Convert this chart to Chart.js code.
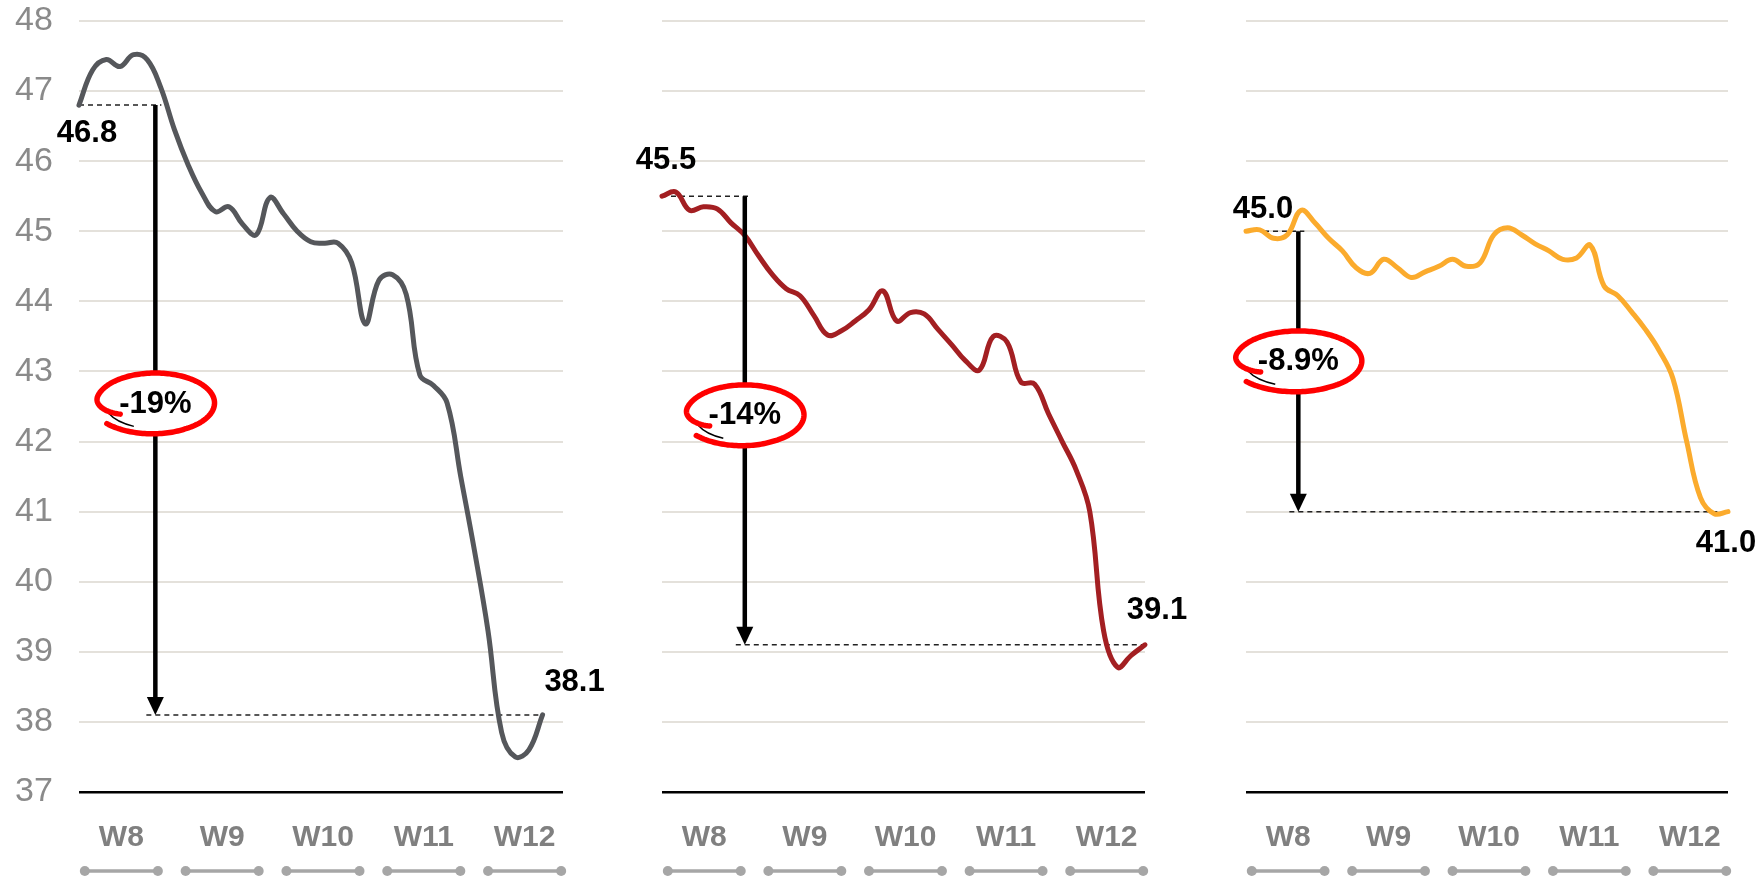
<!DOCTYPE html>
<html>
<head>
<meta charset="utf-8">
<script src="https://cdn.jsdelivr.net/npm/chart.js@4.4.1/dist/chart.umd.min.js"></script>
<style>
  html, body { margin: 0; padding: 0; background: #fff; }
  body { width: 1762px; height: 881px; position: relative; overflow: hidden; }
  .panel { position: absolute; top: 0; height: 881px; }
</style>
</head>
<body>
<div class="panel" style="left:0;width:620px"><canvas id="c1"></canvas></div>
<div class="panel" style="left:620px;width:580px"><canvas id="c2"></canvas></div>
<div class="panel" style="left:1200px;width:562px"><canvas id="c3"></canvas></div>
<script>
// weekly axis labels
const weeks = ['W8', 'W9', 'W10', 'W11', 'W12'];

// daily values, one series per panel
const seriesGrey = [46.8, 47.3, 47.45, 47.35, 47.52, 47.45, 47.05, 46.45, 45.95, 45.55,
  45.28, 45.35, 45.1, 44.95, 45.48, 45.25, 45.0, 44.85, 44.83, 44.83,
  44.55, 43.68, 44.3, 44.38, 44.1, 42.95, 42.8, 42.55, 41.5, 40.45,
  39.3, 37.85, 37.5, 37.6, 38.1];
const seriesRed = [45.5, 45.56, 45.3, 45.35, 45.32, 45.12, 44.94, 44.65, 44.38, 44.18,
  44.08, 43.8, 43.52, 43.58, 43.72, 43.88, 44.15, 43.72, 43.84, 43.82,
  43.6, 43.38, 43.15, 43.02, 43.5, 43.42, 42.85, 42.82, 42.4, 42.0,
  41.6, 41.0, 39.3, 38.78, 38.95, 39.1];
const seriesOrange = [45.0, 45.02, 44.9, 44.95, 45.3, 45.12, 44.9, 44.72, 44.48, 44.4,
  44.6, 44.48, 44.34, 44.42, 44.5, 44.6, 44.5, 44.55, 44.95, 45.05,
  44.95, 44.82, 44.72, 44.6, 44.62, 44.8, 44.22, 44.08, 43.85, 43.6,
  43.3, 42.9, 42.0, 41.2, 40.97, 41.0];

const yTicks = { min: 37, max: 48, step: 1 };

const FONT = '"Liberation Sans", Arial, sans-serif';

// layout and annotation placement per panel
const panels = [
  { id: 'c1', values: seriesGrey, color: '#55575b', xMax: 35.5, left: 15, right: 57, axisWidth: 64, showTicks: true,
    arrowAt: 5.6, bubbleAt: 42.55, firstLabel: [8, 28], lastLabel: [32, -32] },
  { id: 'c2', values: seriesRed, color: '#a31f22', xMax: 35, left: 42, right: 55, axisWidth: 0, showTicks: false,
    arrowAt: 6.0, bubbleAt: 42.38, firstLabel: [4, -36], lastLabel: [12, -34] },
  { id: 'c3', values: seriesOrange, color: '#fbab2d', xMax: 35, left: 46, right: 34, axisWidth: 0, showTicks: false,
    arrowAt: 3.8, bubbleAt: 43.15, firstLabel: [17, -22], lastLabel: [-2, 32] }
];

function line(ctx, x0, y0, x1, y1) {
  ctx.beginPath();
  ctx.moveTo(x0, y0);
  ctx.lineTo(x1, y1);
  ctx.stroke();
}

// week labels with the small dumbbell brackets under them
const weekAxis = {
  id: 'weekAxis',
  afterDraw(chart) {
    const { ctx, chartArea: a } = chart;
    const w = a.right - a.left;
    ctx.save();
    weeks.forEach((wk, i) => {
      const x0 = a.left + w * (0.012 + 0.2083 * i);
      const x1 = x0 + w * 0.151;
      const yb = a.bottom + 79;
      ctx.strokeStyle = '#a6a6a6';
      ctx.fillStyle = '#a6a6a6';
      ctx.lineWidth = 3.5;
      line(ctx, x0, yb, x1, yb);
      [x0, x1].forEach(x => {
        ctx.beginPath();
        ctx.arc(x, yb, 5, 0, Math.PI * 2);
        ctx.fill();
      });
      ctx.fillStyle = '#808080';
      ctx.font = 'bold 30px ' + FONT;
      ctx.textAlign = 'center';
      ctx.textBaseline = 'middle';
      ctx.fillText(wk, (x0 + x1) / 2, a.bottom + 46);
    });
    ctx.restore();
  }
};

// hand drawn red loop round the change label
function scribble(ctx, cx, cy, rx, ry) {
  ctx.beginPath();
  for (let d = 148; d <= 501; d += 2) {
    let f = 1;
    if (d < 194) {
      const t = (d - 148) / 46;
      f = 0.7 + 0.3 * t * (2 - t);
    } else if (d > 420) {
      f = 1 + 0.07 * (d - 420) / 81;
    }
    const r = d * Math.PI / 180;
    const x = cx + rx * f * Math.cos(r);
    const y = cy + ry * f * Math.sin(r);
    if (d === 148) ctx.moveTo(x, y); else ctx.lineTo(x, y);
  }
  ctx.stroke();
}

// dashed guides, drop arrow, circled change and end values
const dropMarker = {
  id: 'dropMarker',
  beforeDatasetsDraw(chart, args, opts) {
    const { ctx } = chart;
    const xs = chart.scales.x, ys = chart.scales.y;
    const pts = chart.data.datasets[0].data;
    const first = pts[0], last = pts[pts.length - 1];
    const xA = xs.getPixelForValue(opts.arrowAt);
    ctx.save();
    ctx.setLineDash([5, 4]);
    ctx.lineWidth = 1.5;
    ctx.strokeStyle = '#222';
    line(ctx, xs.getPixelForValue(first.x), ys.getPixelForValue(first.y), xA + 6, ys.getPixelForValue(first.y));
    line(ctx, xA - 9, ys.getPixelForValue(last.y), xs.getPixelForValue(last.x), ys.getPixelForValue(last.y));
    ctx.restore();
  },
  afterDatasetsDraw(chart, args, opts) {
    const { ctx } = chart;
    const xs = chart.scales.x, ys = chart.scales.y;
    const pts = chart.data.datasets[0].data;
    const first = pts[0], last = pts[pts.length - 1];
    const xA = xs.getPixelForValue(opts.arrowAt);
    const y0 = ys.getPixelForValue(first.y), y1 = ys.getPixelForValue(last.y);
    ctx.save();

    // arrow
    ctx.strokeStyle = '#000';
    ctx.fillStyle = '#000';
    ctx.lineWidth = 4.5;
    line(ctx, xA, y0, xA, y1 - 14);
    ctx.beginPath();
    ctx.moveTo(xA - 8.5, y1 - 18);
    ctx.lineTo(xA + 8.5, y1 - 18);
    ctx.lineTo(xA, y1);
    ctx.closePath();
    ctx.fill();

    // circled change
    const pct = ((last.y - first.y) / first.y * 100).toPrecision(2) + '%';
    ctx.font = 'bold 31px ' + FONT;
    const tw = ctx.measureText(pct).width;
    const cx = xA, cy = ys.getPixelForValue(opts.bubbleAt);
    const rx = tw / 2 + 23, ry = 30;
    ctx.fillStyle = '#fff';
    ctx.beginPath();
    ctx.ellipse(cx, cy, rx, ry, 0, 0, Math.PI * 2);
    ctx.fill();
    ctx.strokeStyle = '#000';
    ctx.lineWidth = 1.5;
    ctx.beginPath();
    ctx.ellipse(cx, cy, rx * 0.86, ry * 0.86, 0, 115 * Math.PI / 180, 157 * Math.PI / 180);
    ctx.stroke();
    ctx.strokeStyle = '#ff0000';
    ctx.lineWidth = 5.5;
    ctx.lineCap = 'round';
    ctx.lineJoin = 'round';
    scribble(ctx, cx, cy, rx, ry);
    ctx.fillStyle = '#000';
    ctx.textAlign = 'center';
    ctx.textBaseline = 'middle';
    ctx.fillText(pct, cx, cy + 1);

    // start and end values
    const x0 = xs.getPixelForValue(first.x), x1 = xs.getPixelForValue(last.x);
    ctx.fillText(first.y.toFixed(1), x0 + opts.firstLabel[0], y0 + opts.firstLabel[1]);
    ctx.fillText(last.y.toFixed(1), x1 + opts.lastLabel[0], y1 + opts.lastLabel[1]);
    ctx.restore();
  }
};

panels.forEach(p => {
  new Chart(document.getElementById(p.id), {
    type: 'line',
    data: {
      datasets: [{
        data: p.values.map((v, i) => ({ x: i, y: v })),
        borderColor: p.color,
        borderWidth: 5,
        tension: 0.4,
        pointRadius: 0,
        borderCapStyle: 'round',
        borderJoinStyle: 'round',
        clip: false
      }]
    },
    options: {
      responsive: true,
      maintainAspectRatio: false,
      animation: false,
      layout: { padding: { top: 21, bottom: 89, left: p.left, right: p.right } },
      plugins: {
        legend: { display: false },
        tooltip: { enabled: false },
        dropMarker: p
      },
      scales: {
        x: { type: 'linear', min: 0, max: p.xMax, display: false },
        y: {
          min: yTicks.min,
          max: yTicks.max,
          border: { display: false },
          grid: {
            drawTicks: false,
            color: c => c.tick.value === yTicks.min ? '#000' : '#e4e1db',
            lineWidth: c => c.tick.value === yTicks.min ? 2.5 : 2
          },
          ticks: {
            display: p.showTicks,
            stepSize: yTicks.step,
            padding: 0,
            crossAlign: 'far',
            color: '#8a8a8a',
            font: { family: FONT, size: 34, lineHeight: 1 }
          },
          afterFit: s => { s.width = p.axisWidth; }
        }
      }
    },
    plugins: [weekAxis, dropMarker]
  });
});
</script>
</body>
</html>
